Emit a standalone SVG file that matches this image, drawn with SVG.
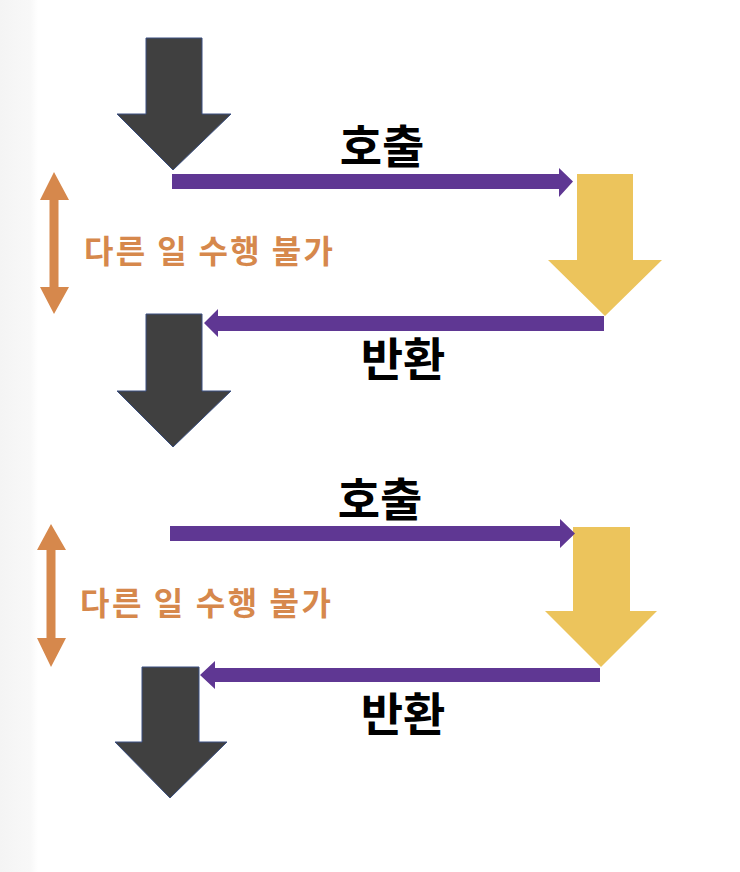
<svg xmlns="http://www.w3.org/2000/svg" width="740" height="872" viewBox="0 0 740 872">
<style>
.dark{fill:#404040;stroke:#3a4f80;stroke-width:1}
.yellow{fill:#ECC45C}
.purple{fill:#5F3793}
.orange{fill:#D6884C}
.lbl{font-family:"Noto Sans CJK KR","Noto Sans",sans-serif;font-weight:700;font-size:46px;fill:#000;text-anchor:middle}
.warn{font-family:"Noto Sans CJK KR","Noto Sans",sans-serif;font-weight:700;font-size:32px;fill:#D6884C}
</style>
<defs>
<linearGradient id="edge" x1="0" y1="0" x2="1" y2="0">
<stop offset="0" stop-color="#f4f4f4"/>
<stop offset="0.8" stop-color="#f8f8f8"/>
<stop offset="1" stop-color="#ffffff"/>
</linearGradient>
</defs>
<rect x="0" y="0" width="740" height="872" fill="#ffffff"/>
<rect x="0" y="0" width="38" height="872" fill="url(#edge)"/>

<g id="caller-1">
<polygon class="dark" points="146,38 202,38 202,114 231,114 173,170 117,114 146,114"/>
</g>
<g id="callee-1">
<polygon class="yellow" points="577,174 633,174 633,260 662,260 605,316 548,260 577,260"/>
</g>
<g id="caller-2">
<polygon class="dark" points="146,314 202,314 202,391 231,391 173,447 117,391 146,391"/>
</g>
<g id="callee-2">
<polygon class="yellow" points="573,527 630,527 630,611 657,611 601,667 545,611 573,611"/>
</g>
<g id="caller-3">
<polygon class="dark" points="142,667 199,667 199,742 227,742 170,798 115,742 142,742"/>
</g>

<g id="block-1">
<polygon class="orange" points="54,172 69,200 58.5,200 58.5,287 69,287 54,314 40,287 49.5,287 49.5,200 40,200"/>
<text class="warn" x="84" y="263" textLength="249" lengthAdjust="spacing">다른 일 수행 불가</text>
</g>
<g id="block-2">
<polygon class="orange" points="51,524 66,550 55.5,550 55.5,638 66,638 51,667 37,638 46.5,638 46.5,550 37,550"/>
<text class="warn" x="80" y="615" textLength="251" lengthAdjust="spacing">다른 일 수행 불가</text>
</g>

<g id="connectors">
<polygon class="purple" points="172,174 559,174 559,168 573,181.5 559,197 559,189 172,189"/>
<polygon class="purple" points="604,316 218,316 218,309 204,323 218,337 218,331 604,331"/>
<polygon class="purple" points="170,526 560,526 560,519 575,533.5 560,548 560,541 170,541"/>
<polygon class="purple" points="600,668 215,668 215,661 200,675 215,689 215,682 600,682"/>
</g>

<g id="labels">
<text class="lbl" x="382" y="163">호출</text>
<text class="lbl" x="403" y="376">반환</text>
<text class="lbl" x="380" y="516">호출</text>
<text class="lbl" x="403" y="731">반환</text>
</g>
</svg>
